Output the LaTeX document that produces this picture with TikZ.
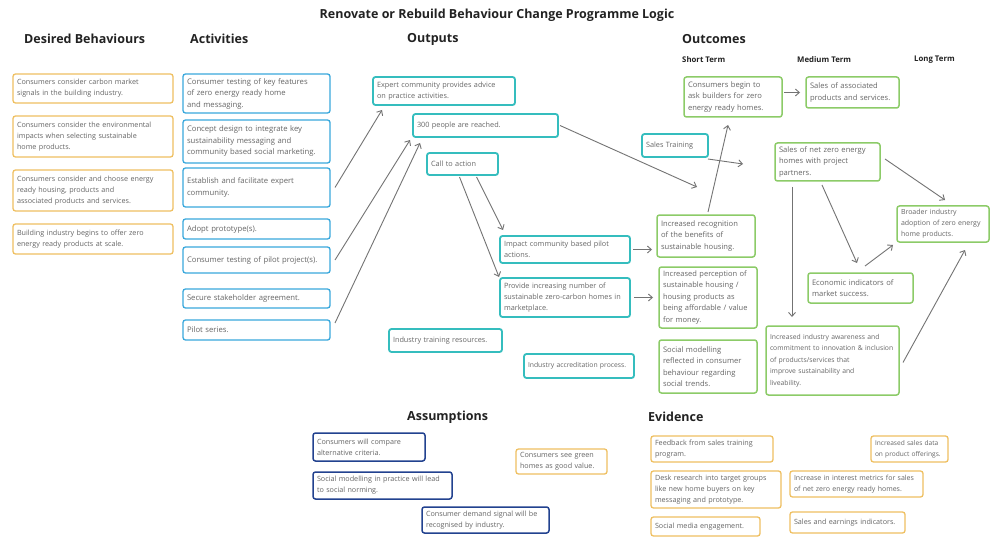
\documentclass[tikz,border=0pt]{standalone}
\usepackage{fontspec}
\setmainfont{Open Sans}
\usetikzlibrary{arrows.meta}
\definecolor{cDes}{HTML}{EFC062}
\definecolor{cAct}{HTML}{3AA8DC}
\definecolor{cOut}{HTML}{35BDBE}
\definecolor{cOc}{HTML}{8CCB68}
\definecolor{cAs}{HTML}{22428F}
\definecolor{cTxt}{HTML}{666666}
\definecolor{cArr}{HTML}{737373}
\definecolor{cHead}{HTML}{222222}
\newcommand{\lmbox}[7]{%
  \pgfmathsetmacro{\lmbw}{#4-#2}\pgfmathsetmacro{\lmbh}{#5-#3}\pgfmathsetmacro{\lmtw}{#4-#2-8}%
  \node[#6, minimum width=\lmbw pt, minimum height=\lmbh pt, text width=\lmtw pt, anchor=north west] (#1) at (#2,#3) {#7};}
\tikzset{
  basebox/.style={draw, rounded corners=2.5pt, fill=white, text=cTxt, align=left,
    inner xsep=4pt, inner ysep=2pt, outer sep=0pt, font=\fontsize{7.2}{11}\selectfont},
  desbox/.style={basebox, draw=cDes, line width=1.3pt},
  actbox/.style={basebox, draw=cAct, line width=1.3pt, font=\fontsize{7.7}{11.5}\selectfont},
  outbox/.style={basebox, draw=cOut, line width=1.8pt, font=\fontsize{7.3}{11}\selectfont},
  ocbox/.style={basebox, draw=cOc, line width=1.5pt, font=\fontsize{7.6}{11.5}\selectfont},
  asbox/.style={basebox, draw=cAs, line width=1.5pt},
  heading/.style={font=\fontsize{12.5}{14}\selectfont\bfseries, text=cHead, anchor=west, inner sep=0pt},
  subhead/.style={font=\fontsize{7.8}{9}\selectfont\bfseries, text=cHead, anchor=west, inner sep=0pt},
  arr/.style={draw=cArr, line width=0.9pt, -{Straight Barb[length=4pt,width=7pt]}}
}
\begin{document}
\begin{tikzpicture}[x=1pt,y=-1pt]
\useasboundingbox (0,0) rectangle (990,540);
\fill[white] (0,0) rectangle (990,540);

% Title and headings
\node[font=\fontsize{12.5}{14}\selectfont\bfseries, text=cHead, inner sep=0pt] (title) at (497,15) {Renovate or Rebuild Behaviour Change Programme Logic};
\node[heading] (hDes) at (24,39) {Desired Behaviours};
\node[heading] (hAct) at (190,39) {Activities};
\node[heading] (hOut) at (407,39) {Outputs};
\node[heading] (hOc) at (682,39) {Outcomes};
\node[subhead] (hST) at (682,60) {Short Term};
\node[subhead] (hMT) at (797,60) {Medium Term};
\node[subhead] (hLT) at (914,60) {Long Term};
\node[heading] (hAs) at (407,417) {Assumptions};
\node[heading] (hEv) at (648,417) {Evidence};

% Desired behaviours
\lmbox{des1}{13}{74}{173}{103}{desbox}{Consumers consider carbon market\\signals in the building industry.}
\lmbox{des2}{13}{116}{173}{157}{desbox}{Consumers consider the environmental\\impacts when selecting sustainable\\home products.}
\lmbox{des3}{13}{170}{173}{211}{desbox}{Consumers consider and choose energy\\ready housing, products and\\associated products and services.}
\lmbox{des4}{13}{224}{173}{254}{desbox}{Building industry begins to offer zero\\energy ready products at scale.}

% Activities
\lmbox{act1}{183}{74}{330}{113}{actbox}{Consumer testing of key features\\of zero energy ready home\\and messaging.}
\lmbox{act2}{183}{120}{330}{163}{actbox}{Concept design to integrate key\\sustainability messaging and\\community based social marketing.}
\lmbox{act3}{183}{168}{330}{207}{actbox}{Establish and facilitate expert\\community.}
\lmbox{act4}{183}{219}{330}{239}{actbox}{Adopt prototype(s).}
\lmbox{act5}{183}{247}{330}{273}{actbox}{Consumer testing of pilot project(s).}
\lmbox{act6}{183}{289}{330}{308}{actbox}{Secure stakeholder agreement.}
\lmbox{act7}{183}{320}{330}{340}{actbox}{Pilot series.}

% Outputs
\lmbox{out1}{373}{77}{515}{105}{outbox}{Expert community provides advice\\on practice activities.}
\lmbox{out2}{413}{114}{558}{137}{outbox}{300 people are reached.}
\lmbox{cta}{427}{153}{498}{175}{outbox}{Call to action}
\lmbox{out4}{500}{236}{630}{263}{outbox}{Impact community based pilot\\actions.}
\lmbox{out5}{500}{278}{630}{317}{outbox}{Provide increasing number of\\sustainable zero-carbon homes in\\marketplace.}
\lmbox{out6}{389}{329}{502}{352}{outbox}{Industry training resources.}
\lmbox{out7}{524}{354}{634}{378}{outbox,font=\fontsize{6.8}{11}\selectfont}{Industry accreditation process.}
\lmbox{sales}{642}{134}{708}{157}{outbox}{Sales Training}

% Outcomes - short term
\lmbox{st1}{684}{77}{782}{117}{ocbox}{Consumers begin to\\ask builders for zero\\energy ready homes.}
\lmbox{st2}{657}{215}{755}{257}{ocbox}{Increased recognition\\of the benefits of\\sustainable housing.}
\lmbox{st3}{659}{267}{757}{328}{ocbox,font=\fontsize{7.5}{11.5}\selectfont}{Increased perception of\\sustainable housing /\\housing products as\\being affordable / value\\for money.}
\lmbox{st4}{659}{340}{757}{393}{ocbox}{Social modelling\\reflected in consumer\\behaviour regarding\\social trends.}
% Medium term
\lmbox{md1}{806}{77}{899}{108}{ocbox}{Sales of associated\\products and services.}
\lmbox{md2}{775}{143}{880}{181}{ocbox}{Sales of net zero energy\\homes with project\\partners.}
\lmbox{md3}{808}{273}{913}{303}{ocbox}{Economic indicators of\\market success.}
\lmbox{md4}{766}{326}{899}{395}{ocbox,font=\fontsize{6.8}{11.5}\selectfont}{Increased industry awareness and\\commitment to innovation \& inclusion\\of products/services that\\improve sustainability and\\liveability.}
% Long term
\lmbox{lt1}{897}{206}{989}{242}{ocbox,font=\fontsize{7}{11}\selectfont}{Broader industry\\adoption of zero energy\\home products.}

% Assumptions
\lmbox{as1}{313}{433}{425}{461}{asbox}{Consumers will compare\\alternative criteria.}
\lmbox{as2}{313}{472}{452}{499}{asbox}{Social modelling in practice will lead\\to social norming.}
\lmbox{as3}{422}{507}{549}{533}{asbox}{Consumer demand signal will be\\recognised by industry.}
\lmbox{as4}{516}{449}{607}{474}{desbox}{Consumers see green\\homes as good value.}

% Evidence
\lmbox{ev1}{651}{436}{773}{462}{desbox}{Feedback from sales training\\program.}
\lmbox{ev2}{651}{471}{781}{508}{desbox}{Desk research into target groups\\like new home buyers on key\\messaging and prototype.}
\lmbox{ev3}{651}{517}{760}{536}{desbox}{Social media engagement.}
\lmbox{ev4}{790}{471}{923}{497}{desbox,font=\fontsize{7}{11}\selectfont}{Increase in interest metrics for sales\\of net zero energy ready homes.}
\lmbox{ev5}{790}{512}{905}{533}{desbox}{Sales and earnings indicators.}
\lmbox{ev6}{871}{436}{948}{462}{desbox,font=\fontsize{6.6}{11}\selectfont}{Increased sales data\\on product offerings.}

% Free arrow ends
\coordinate (e8) at ([shift={(-9pt,28pt)}]st2.north);
\coordinate (e9) at ([shift={(-32pt,-2pt)}]md2.west);

% Connectors
\draw[arr] ([xshift=5pt]act3.east) -- ([shift={(9pt,-5pt)}]out1.south west);
\draw[arr] ([xshift=5pt]act5.east) -- ([shift={(-3pt,-3pt)}]out2.south west);
\draw[arr] ([shift={(5pt,7pt)}]act7.east) -- ([shift={(7pt,-6pt)}]out2.south west);
\draw[arr] ([shift={(-3pt,-2pt)}]cta.south) -- ([shift={(-1pt,1pt)}]out5.north west);
\draw[arr] ([shift={(14pt,-2pt)}]cta.south) -- ([shift={(3pt,6pt)}]out4.north west);
\draw[arr] ([xshift=3pt]out4.east) -- ([xshift=-5pt]st2.west |- out4.east);
\draw[arr] ([xshift=4pt]out5.east) -- ([xshift=-6pt]st3.west |- out5.east);
\draw[arr] ([xshift=2pt]out2.east) -- (e8);
\draw[arr] ([yshift=-2pt]sales.south east) -- (e9);
\draw[arr] ([shift={(2pt,3pt)}]st2.north) -- ([shift={(-5pt,-8pt)}]st1.south);
\draw[arr] ([xshift=2pt]st1.east |- md1.west) -- ([xshift=-6pt]md1.west);
\draw[arr] ([shift={(17pt,-6pt)}]md2.south west) -- ([shift={(26pt,9pt)}]md4.north west);
\draw[arr] ([shift={(47pt,-4pt)}]md2.south west) -- ([shift={(49pt,10pt)}]md3.north west);
\draw[arr] ([shift={(57pt,7pt)}]md3.north west) -- ([shift={(-4pt,-3pt)}]lt1.south west);
\draw[arr] ([shift={(5pt,3pt)}]md2.east) -- ([shift={(48pt,6pt)}]lt1.north west);
\draw[arr] ([shift={(4pt,-2pt)}]md4.east) -- ([shift={(68pt,-8pt)}]lt1.south west);
\end{tikzpicture}
\end{document}
